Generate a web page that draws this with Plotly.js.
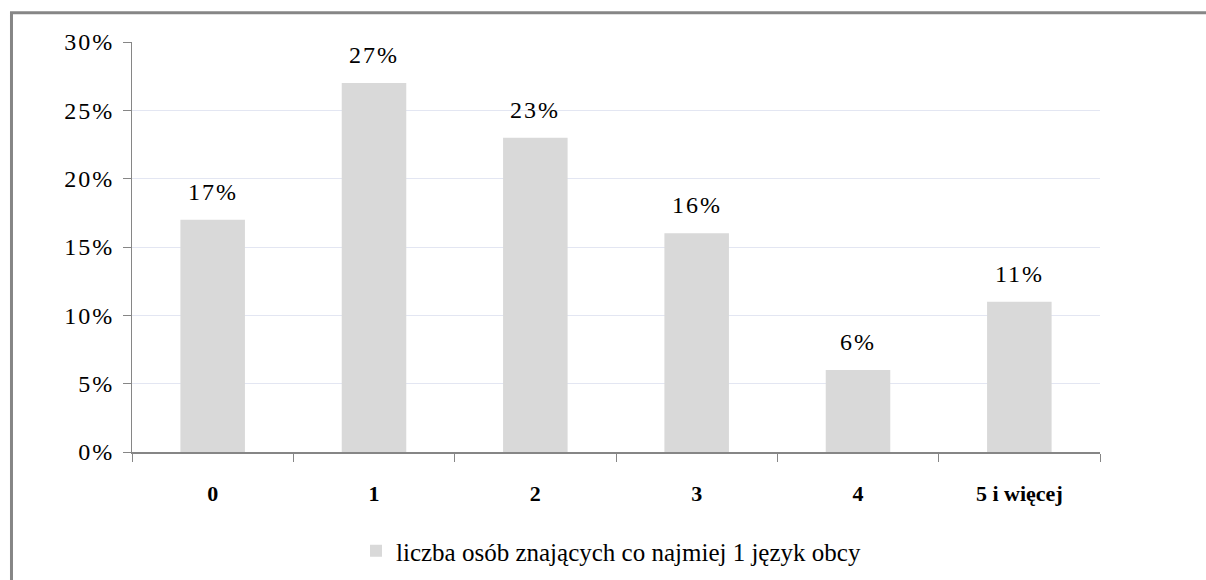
<!DOCTYPE html>
<html>
<head>
<meta charset="utf-8">
<script src="https://cdn.plot.ly/plotly-3.0.1.min.js"></script>
<style>
html,body{margin:0;padding:0;background:#fff;}
#chart{width:1206px;height:580px;}
#chart .ytick text, #chart text.annotation-text{letter-spacing:2px;}
</style>
</head>
<body>
<div id="chart"></div>
<script>
const categories = ["0", "1", "2", "3", "4", "5 i więcej"];
const values = [17, 27, 23, 16, 6, 11];
const seriesName = "liczba osób znających co najmiej 1 język obcy";
const yTickVals = [0, 5, 10, 15, 20, 25, 30];
const yTickText = ["0%", "5%", "10%", "15%", "20%", "25%", "30%"];

const FONT = "Liberation Serif";

const trace = {
  type: "bar",
  x: categories,
  y: values,
  name: seriesName,
  marker: {color: "#d9d9d9", line: {width: 0}},
  hoverinfo: "skip",
  showlegend: true
};

const annotations = categories.map((c, i) => ({
  x: c, y: values[i], xref: "x", yref: "y",
  text: values[i] + "%",
  showarrow: false, yanchor: "bottom", yshift: 13,
  font: {family: FONT, size: 24, color: "#000"}
}));

const layout = {
  width: 1206, height: 580,
  margin: {l: 132, r: 106, t: 42, b: 128},
  paper_bgcolor: "#fff", plot_bgcolor: "#fff",
  font: {family: FONT, size: 24, color: "#000"},
  bargap: 0.6,
  xaxis: {
    type: "category",
    showline: true, linecolor: "#868686", linewidth: 2,
    ticks: "outside", tickson: "boundaries", ticklen: 8, tickcolor: "#868686", tickwidth: 1,
    tickfont: {family: FONT, size: 22, color: "#000", weight: "bold"},
    ticklabelstandoff: 21,
    showgrid: false, zeroline: false, fixedrange: true, automargin: false
  },
  yaxis: {
    range: [0, 30],
    tickvals: yTickVals, ticktext: yTickText,
    showline: true, linecolor: "#868686", linewidth: 1,
    ticks: "outside", ticklen: 8, tickcolor: "#868686", tickwidth: 1,
    tickfont: {family: FONT, size: 24, color: "#000"},
    ticklabelstandoff: 4,
    showgrid: true, gridcolor: "#e3e6f2", gridwidth: 1,
    zeroline: false, fixedrange: true, automargin: false
  },
  legend: {
    orientation: "h", xref: "container", yref: "container",
    x: 0.2952, xanchor: "left", y: 0.05, yanchor: "middle",
    font: {family: FONT, size: 25, color: "#000"},
    itemclick: false, itemdoubleclick: false
  },
  annotations: annotations,
  shapes: [{
    type: "rect", xref: "paper", yref: "paper",
    x0: -0.1245, x1: 1.12, y0: -0.34, y1: 1.0715,
    line: {color: "#868686", width: 3}, fillcolor: "rgba(0,0,0,0)", layer: "above"
  }]
};

Plotly.newPlot("chart", [trace], layout, {displayModeBar: false, staticPlot: true});
</script>
</body>
</html>
